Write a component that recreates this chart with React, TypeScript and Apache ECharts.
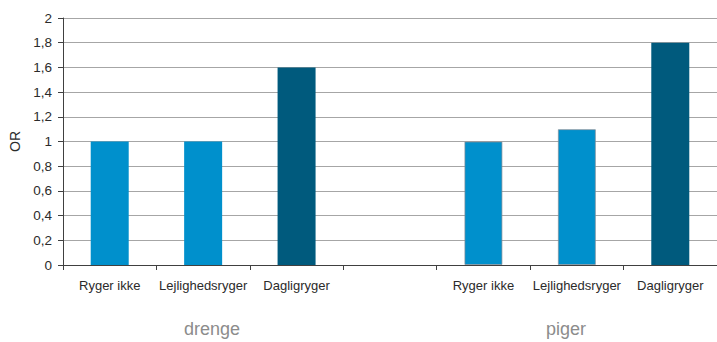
import React, { useEffect, useRef } from "react";
import * as echarts from "echarts";

const categories = ["Ryger ikke", "Lejlighedsryger", "Dagligryger", "", "Ryger ikke", "Lejlighedsryger", "Dagligryger"];
const orValues = [1, 1, 1.6, null, 1, 1.1, 1.8];
const barColors = ["#0090CC", "#0090CC", "#005A7D", "#0090CC", "#0090CC", "#0090CC", "#005A7D"];
const groupLabels = ["drenge", "piger"];
const yTicks = [0, 0.2, 0.4, 0.6, 0.8, 1, 1.2, 1.4, 1.6, 1.8, 2];

export default function App() {
  const ref = useRef<HTMLDivElement>(null);
  useEffect(() => {
    if (!ref.current) return;
    const chart = echarts.init(ref.current, null, { renderer: "svg" });
    const font = "Liberation Sans";
    chart.setOption({
      animation: false,
      backgroundColor: "#ffffff",
      textStyle: { fontFamily: font },
      grid: { left: 63, top: 18, width: 658, height: 247, containLabel: false },
      xAxis: {
        type: "category",
        data: categories.map((_, i) => String(i)),
        axisLine: { lineStyle: { color: "#404040", width: 1 } },
        axisTick: { show: true, length: 5, lineStyle: { color: "#404040" } },
        axisLabel: {
          interval: 0,
          margin: 14,
          color: "#2b2b2b",
          fontFamily: font,
          fontSize: 13,
          formatter: (v: string) => categories[Number(v)],
        },
        splitLine: { show: false },
      },
      yAxis: {
        type: "value",
        min: yTicks[0],
        max: yTicks[yTicks.length - 1],
        interval: 0.2,
        name: "OR",
        nameLocation: "middle",
        nameGap: 41,
        nameRotate: 90,
        nameTextStyle: { color: "#2b2b2b", fontFamily: font, fontSize: 14 },
        axisLine: { show: true, lineStyle: { color: "#404040", width: 1 } },
        axisTick: { show: true, length: 5, lineStyle: { color: "#404040" } },
        axisLabel: {
          margin: 11,
          color: "#2b2b2b",
          fontFamily: font,
          fontSize: 13.5,
          formatter: (v: number) => String(Math.round(v * 10) / 10).replace(".", ","),
        },
        splitLine: { show: true, lineStyle: { color: "#a6a6a6", width: 1 } },
      },
      series: [
        {
          type: "bar",
          barWidth: 38,
          data: orValues.map((v, i) => ({
            value: v,
            itemStyle: {
              color: barColors[i],
              borderColor: i >= 4 && i < 6 ? "rgba(130,140,150,0.7)" : barColors[i],
              borderWidth: i >= 4 && i < 6 ? 1 : 0,
            },
          })),
        },
      ],
      graphic: [
        {
          type: "text",
          x: 212,
          y: 320,
          style: {
            text: groupLabels[0],
            fill: "#8c8c8c",
            fontFamily: font,
            fontSize: 18,
            textAlign: "center",
            textVerticalAlign: "top",
          },
        },
        {
          type: "text",
          x: 566,
          y: 320,
          style: {
            text: groupLabels[1],
            fill: "#8c8c8c",
            fontFamily: font,
            fontSize: 18,
            textAlign: "center",
            textVerticalAlign: "top",
          },
        },
      ],
    });
    return () => chart.dispose();
  }, []);
  return <div ref={ref} style={{ width: 717, height: 342, position: "absolute", left: 0, top: 0 }} />;
}
